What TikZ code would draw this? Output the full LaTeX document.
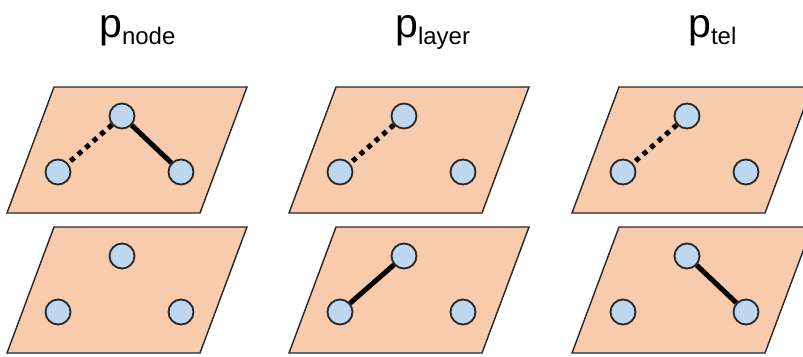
\documentclass[tikz,border=0pt]{standalone}
\usepackage{fontspec}
\setmainfont{Liberation Sans}
\usepackage{tikz}
\definecolor{peach}{HTML}{F8CBAD}
\definecolor{lightblue}{HTML}{BDD7EE}
\tikzstyle{vertex}=[circle, draw=black!85, fill=lightblue, line width=1.8pt, inner sep=0pt, minimum size=25pt]
\tikzstyle{plane}=[draw=black!85, fill=peach, line width=1.4pt, line join=miter]
\tikzstyle{link}=[line width=5pt]
\tikzstyle{weaklink}=[line width=5pt, dash pattern=on 5pt off 5pt]
\tikzstyle{title}=[anchor=base west, inner sep=0pt, font=\fontsize{41}{41}\selectfont]
\newcommand{\sub}[1]{\raisebox{-7pt}{\fontsize{24}{24}\selectfont #1}}

\begin{document}
\begin{tikzpicture}[x=1pt, y=-1pt]
                    \useasboundingbox (0,0) rectangle (803,356);
                    % titles
                    \node[title] (tnode)  at (99, 37)  {p\sub{node}};
                    \node[title] (tlayer) at (395, 37) {p\sub{layer}};
                    \node[title] (ttel)   at (688, 37) {p\sub{tel}};
                    % planes
                    \draw[plane] (7, 213)   -- (54, 87)  -- (247, 87)  -- (200, 213) -- cycle;
                    \draw[plane] (7, 353)   -- (54, 227) -- (247, 227) -- (200, 353) -- cycle;
                    \draw[plane] (289, 213) -- (336, 87) -- (529, 87)  -- (482, 213) -- cycle;
                    \draw[plane] (289, 353) -- (336, 227) -- (529, 227) -- (482, 353) -- cycle;
                    \draw[plane] (572, 213) -- (619, 87) -- (812, 87)  -- (765, 213) -- cycle;
                    \draw[plane] (572, 353) -- (619, 227) -- (812, 227) -- (765, 353) -- cycle;
                    % p_node
                    \node[vertex] (a1) at (58, 172)  {};
                    \node[vertex] (a2) at (122, 116) {};
                    \node[vertex] (a3) at (181, 172) {};
                    \node[vertex] (b1) at (58, 312)  {};
                    \node[vertex] (b2) at (122, 256) {};
                    \node[vertex] (b3) at (181, 312) {};
                    % p_layer
                    \node[vertex] (c1) at (340, 172) {};
                    \node[vertex] (c2) at (404, 116) {};
                    \node[vertex] (c3) at (463, 172) {};
                    \node[vertex] (d1) at (340, 312) {};
                    \node[vertex] (d2) at (404, 256) {};
                    \node[vertex] (d3) at (463, 312) {};
                    % p_tel
                    \node[vertex] (e1) at (623, 172) {};
                    \node[vertex] (e2) at (687, 116) {};
                    \node[vertex] (e3) at (746, 172) {};
                    \node[vertex] (f1) at (623, 312) {};
                    \node[vertex] (f2) at (687, 256) {};
                    \node[vertex] (f3) at (746, 312) {};
                    \draw[weaklink] (a2)--(a1);
                    \draw[link]     (a2)--(a3);
                    \draw[weaklink] (c2)--(c1);
                    \draw[link]     (d2)--(d1);
                    \draw[weaklink] (e2)--(e1);
                    \draw[link]     (f2)--(f3);
                \end{tikzpicture}
\end{document}
